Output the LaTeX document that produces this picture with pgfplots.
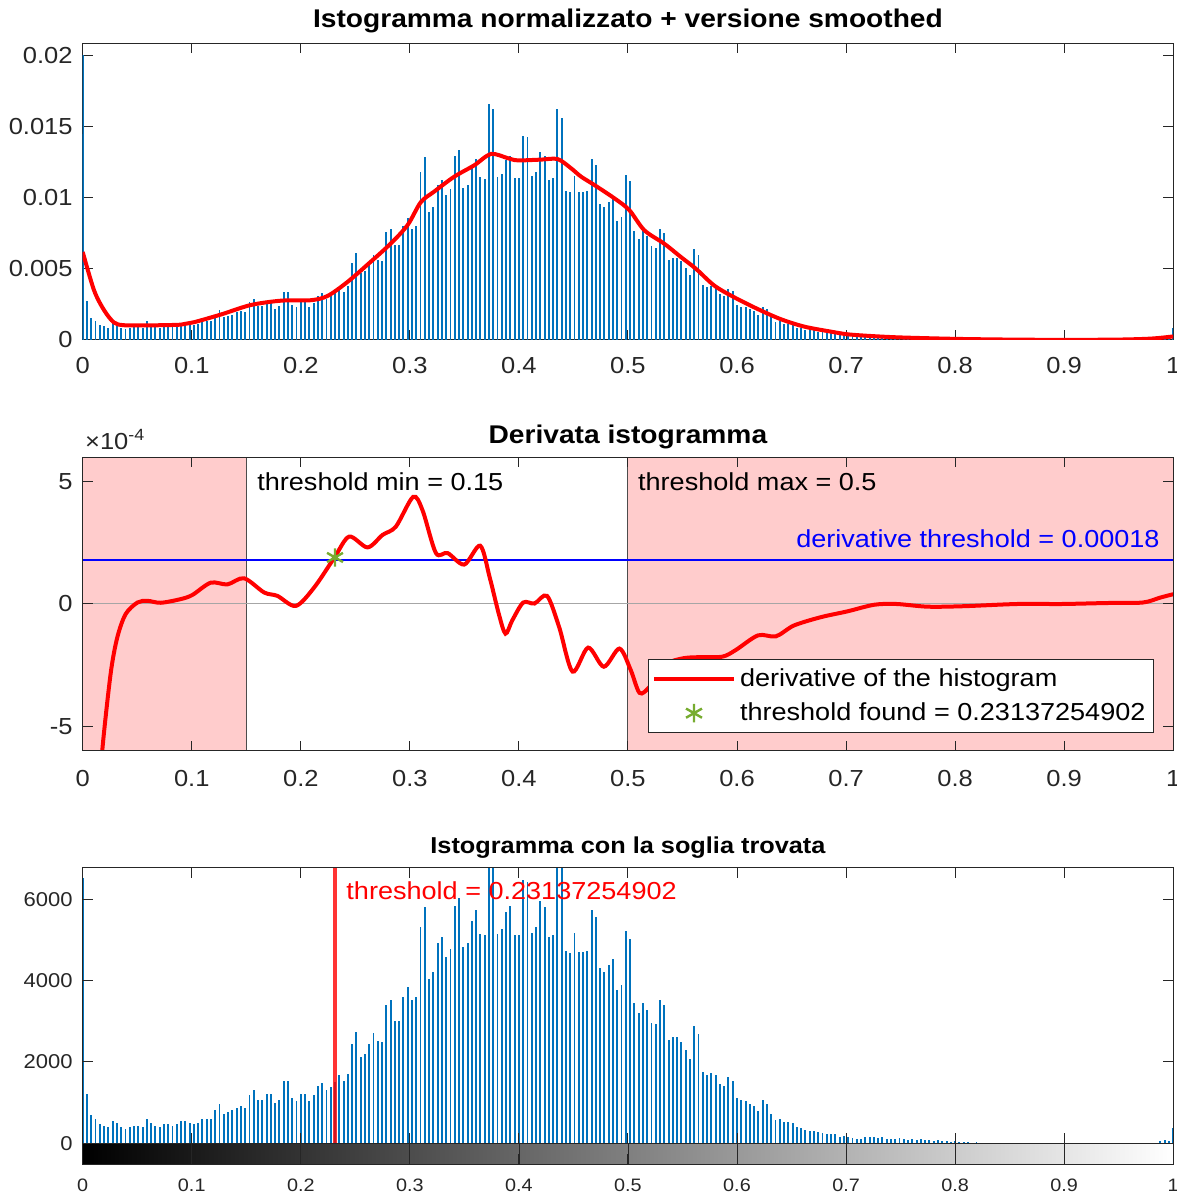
\documentclass[border=0pt]{standalone}
\usepackage{fontspec}
\setmainfont{Liberation Sans}[FakeStretch=1.1]
\usepackage{pgfplots}
\usepackage{pgfplotstable}
\pgfplotsset{compat=1.18}

\definecolor{mblue}{rgb}{0,0.447,0.741}
\definecolor{axgray}{rgb}{0.15,0.15,0.15}
\definecolor{pinkbg}{rgb}{1,0.8,0.8}
\definecolor{mgreen}{rgb}{0.466,0.674,0.188}

% 256-bin histogram counts (bin i at x = i/255)
\pgfplotstableread{
c
6530
1220
700
593
477
436
395
551
510
395
362
395
436
436
395
593
510
436
395
477
477
436
477
551
551
510
477
510
593
593
593
807
955
724
765
807
872
914
872
1200
1300
1070
1070
1218
1218
988
1070
1523
1523
1103
1037
1218
1218
1037
1177
1400
1481
1306
1390
1500
1675
1536
1700
2448
2743
2111
2193
2448
2702
2521
2489
3409
3515
3006
3006
3606
3852
3515
3606
5330
5807
4041
4222
4920
5068
4591
4789
5840
6029
4821
4920
5478
5741
5150
5117
7469
7331
5150
5267
5692
5841
5128
5128
6480
6427
5182
5320
5948
5820
5075
5118
7331
7044
4724
4682
5182
4700
4703
4735
5746
5554
4309
4224
4384
4522
3777
3884
5224
5033
3458
3203
3458
3288
2969
2926
3532
3394
2543
2607
2607
2500
2288
2064
2873
2681
1756
1692
1724
1670
1458
1404
1628
1543
1107
1053
1032
979
926
798
1053
968
713
575
606
521
521
500
394
372
330
309
309
266
245
240
222
222
156
189
156
140
107
107
156
156
156
123
156
107
107
107
140
110
90
100
80
95
70
80
60
70
50
55
40
45
30
25
30
20
25
20
15
20
15
12
15
10
12
10
8
10
8
6
8
6
5
6
5
4
5
4
4
3
4
3
3
3
2
3
2
2
3
2
2
2
3
2
2
3
2
3
20
60
80
60
380
}\histcounts

\pgfplotsset{
  mstyle/.style={
    scale only axis, width=545.25pt, anchor=south west,
    xmin=0, xmax=1,
    xtick={0,0.1,0.2,0.3,0.4,0.5,0.6,0.7,0.8,0.9,1},
    xticklabels={0,0.1,0.2,0.3,0.4,0.5,0.6,0.7,0.8,0.9,1},
    scaled ticks=false,
    /pgf/number format/assume math mode=true,
    axis line style={axgray, line width=0.5pt},
    every tick/.style={axgray, line width=0.5pt},
    tick align=inside, major tick length=5pt,
    xtick pos=both, ytick pos=both,
    tick label style={text=axgray, font=\fontsize{11.6}{13}\selectfont},
    xticklabel style={yshift=-5pt},
    yticklabel style={xshift=-1.5pt},
    clip mode=individual,
    title style={at={(0.5,1)}, anchor=base, yshift=1.6pt,
      font=\bfseries\fontsize{12.8}{14}\selectfont},
  },
  linelegend/.style={legend image code/.code={\draw[##1] (0pt,0pt) -- (40pt,0pt);}},
  marklegend/.style={legend image code/.code={\draw[mark repeat=2, mark phase=2, ##1] plot coordinates {(0pt,0pt) (20pt,0pt) (40pt,0pt)};}},
}

\begin{document}
\begin{tikzpicture}
\useasboundingbox (0,0) rectangle (588.5pt,598pt);

% ---- top: normalized histogram + smoothed
\begin{axis}[mstyle, at={(41.35pt,428pt)}, height=148.4pt,
  ymin=0, ymax=0.0209,
  ytick={0,0.005,0.01,0.015,0.02},
  yticklabels={0,0.005,0.01,0.015,0.02},
  title style={yshift=0.4pt},
  title={Istogramma normalizzato + versione smoothed}]
\addplot[ycomb, mblue, line width=0.95pt] table[x index=0, y index=0, x expr=\coordindex/255, y expr=\thisrow{c}/450000] {\histcounts};
\addplot[ycomb, mblue, line width=0.95pt] coordinates {(0,0.0201)};
\addplot[red, line width=2pt, smooth, tension=0.5] coordinates {
(0,0.0062) (0.0104,0.0035) (0.0196,0.0021) (0.0287,0.00123) (0.038,0.00104)
(0.06,0.00103) (0.09,0.00108) (0.102,0.00125) (0.127,0.0018) (0.154,0.00246)
(0.182,0.00277) (0.209,0.0028) (0.2245,0.0031) (0.243,0.0041) (0.264,0.0055)
(0.2826,0.0068) (0.298,0.0081) (0.31,0.0097) (0.3223,0.01045) (0.3407,0.0115)
(0.359,0.0123) (0.3743,0.0131) (0.3896,0.01281) (0.3988,0.01265) (0.42,0.0127)
(0.4355,0.01274) (0.4477,0.0121) (0.4569,0.01151) (0.4691,0.01092) (0.4875,0.00998)
(0.5012,0.00915) (0.515,0.00773) (0.5333,0.00678) (0.5486,0.00584) (0.5624,0.00501)
(0.5792,0.00383) (0.5976,0.003) (0.619,0.00218) (0.64,0.00147) (0.6618,0.00094)
(0.686,0.00059) (0.7015,0.0004) (0.723,0.00028) (0.75,0.00018) (0.8,0.00008)
(0.85,0.00003) (0.9,0.00001) (0.95,0.00003) (0.98,0.0001) (1.0,0.00025)};
\end{axis}

% ---- middle: derivative
\begin{axis}[mstyle, at={(41.35pt,222.5pt)}, height=147pt,
  ymin=-6e-4, ymax=6e-4,
  ytick={-5e-4,0,5e-4}, yticklabels={-5,0,5},
  xticklabel style={yshift=-1pt},
  axis on top,
  title style={yshift=-0.6pt},
  title={Derivata istogramma},
  legend style={at={(0.9824,0.061)}, anchor=south east, draw=axgray,
    line width=0.5pt, font=\fontsize{12.3}{14}\selectfont, text=black,
    inner xsep=2pt, inner ysep=2.5pt, row sep=2.5pt},
  legend cell align=left]
\fill[pinkbg] (axis cs:0,-6e-4) rectangle (axis cs:0.15,6e-4);
\fill[pinkbg] (axis cs:0.5,-6e-4) rectangle (axis cs:1,6e-4);
\draw[black!70, line width=0.5pt] (axis cs:0.15,-6e-4) -- (axis cs:0.15,6e-4);
\draw[black!70, line width=0.5pt] (axis cs:0.5,-6e-4) -- (axis cs:0.5,6e-4);
\draw[black!35, line width=0.5pt] (axis cs:0,0) -- (axis cs:1,0);
\draw[blue, line width=0.6pt] (axis cs:0,1.8e-4) -- (axis cs:1,1.8e-4);
\addplot[red, line width=2pt, smooth, tension=0.5, linelegend] coordinates {
(0.012,-9.5e-4) (0.018,-5.95e-4) (0.0257,-2.82e-4) (0.0318,-1.35e-4) (0.0394,-0.41e-4)
(0.0502,0.06e-4) (0.0593,0.13e-4) (0.0716,0.05e-4) (0.0899,0.2e-4) (0.1006,0.37e-4)
(0.1174,0.87e-4) (0.1327,0.8e-4) (0.148,1.05e-4) (0.1664,0.47e-4) (0.1786,0.33e-4)
(0.1954,-0.08e-4) (0.2122,0.67e-4) (0.2306,1.88e-4) (0.2443,2.75e-4) (0.2612,2.31e-4)
(0.275,2.82e-4) (0.2872,3.16e-4) (0.303,4.37e-4) (0.3116,3.83e-4) (0.3239,2.08e-4)
(0.3346,2.08e-4) (0.3499,1.61e-4) (0.3645,2.38e-4) (0.3733,1.07e-4) (0.3816,-0.41e-4)
(0.3877,-1.21e-4) (0.3939,-0.67e-4) (0.404,0.06e-4) (0.4143,0.02e-4) (0.4258,0.33e-4)
(0.4369,-0.94e-4) (0.4492,-2.76e-4) (0.4635,-1.78e-4) (0.4779,-2.56e-4) (0.4922,-1.82e-4)
(0.5025,-2.69e-4) (0.5107,-3.63e-4) (0.52,-3.37e-4) (0.535,-2.47e-4) (0.55,-2.22e-4)
(0.565,-2.17e-4) (0.5865,-2.15e-4) (0.5988,-1.88e-4) (0.6193,-1.28e-4) (0.6357,-1.32e-4)
(0.6521,-0.88e-4) (0.6767,-0.54e-4) (0.7013,-0.3e-4) (0.7259,-0.03e-4) (0.7463,0.0)
(0.775,-0.11e-4) (0.808,-0.09e-4) (0.857,0.0) (0.898,0.0) (0.939,0.04e-4)
(0.972,0.06e-4) (0.988,0.26e-4) (1.0,0.4e-4)};
\addlegendentry{derivative of the histogram}
\addplot[only marks, mark=asterisk, mgreen, mark size=4.6pt, line width=1.2pt, marklegend]
  coordinates {(0.23137,1.9e-4)};
\addlegendentry{threshold found = 0.23137254902}
\node[anchor=west, inner sep=0pt, font=\fontsize{12.3}{14}\selectfont] at (axis cs:0.1598,5.0e-4) {threshold min = 0.15};
\node[anchor=west, inner sep=0pt, font=\fontsize{12.3}{14}\selectfont] at (axis cs:0.509,5.0e-4) {threshold max = 0.5};
\node[anchor=east, inner sep=0pt, text=blue, font=\fontsize{12.3}{14}\selectfont] at (axis cs:0.9879,2.65e-4) {derivative threshold = 0.00018};
\node[anchor=base west, inner sep=0pt, text=axgray, font=\fontsize{11.6}{13}\selectfont, xshift=1pt, yshift=3.7pt] at (rel axis cs:0,1) {×10\textsuperscript{-4}};
\end{axis}

% ---- bottom: histogram counts with threshold
\begin{axis}[mstyle, at={(41.35pt,15.85pt)}, height=148.3pt,
  ymin=-516, ymax=6777,
  ytick={0,2000,4000,6000}, yticklabels={0,2000,4000,6000},
  yticklabel style={font=\fontsize{10}{12}\selectfont},
  xticklabel style={font=\fontsize{9}{11}\selectfont, yshift=1.2pt},
  title style={yshift=-0.6pt, font=\bfseries\fontsize{11.5}{13}\selectfont},
  axis on top,
  title={Istogramma con la soglia trovata}]
\addplot[ycomb, mblue, line width=0.95pt] table[x index=0, y index=0, x expr=\coordindex/255, y=c] {\histcounts};
\shade[left color=black, right color=white] (axis cs:0,-516) rectangle (axis cs:1,0);
\draw[axgray, line width=0.8pt] (axis cs:0,0) -- (axis cs:1,0);
\pgfplotsinvokeforeach{0.1,0.2,0.3,0.4,0.5,0.6,0.7,0.8,0.9}{
  \draw[axgray, line width=0.4pt] (axis cs:#1,-516) -- (axis cs:#1,0);
  \draw[axgray, line width=0.5pt] (axis cs:#1,0) -- ++(0pt,5pt);
}
\draw[red, opacity=0.8, line width=2pt] (axis cs:0.23137,0) -- (axis cs:0.23137,6777);
\node[anchor=west, inner sep=0pt, text=red, font=\fontsize{12.3}{14}\selectfont] at (axis cs:0.2415,6204) {threshold = 0.23137254902};
\end{axis}
\end{tikzpicture}
\end{document}
